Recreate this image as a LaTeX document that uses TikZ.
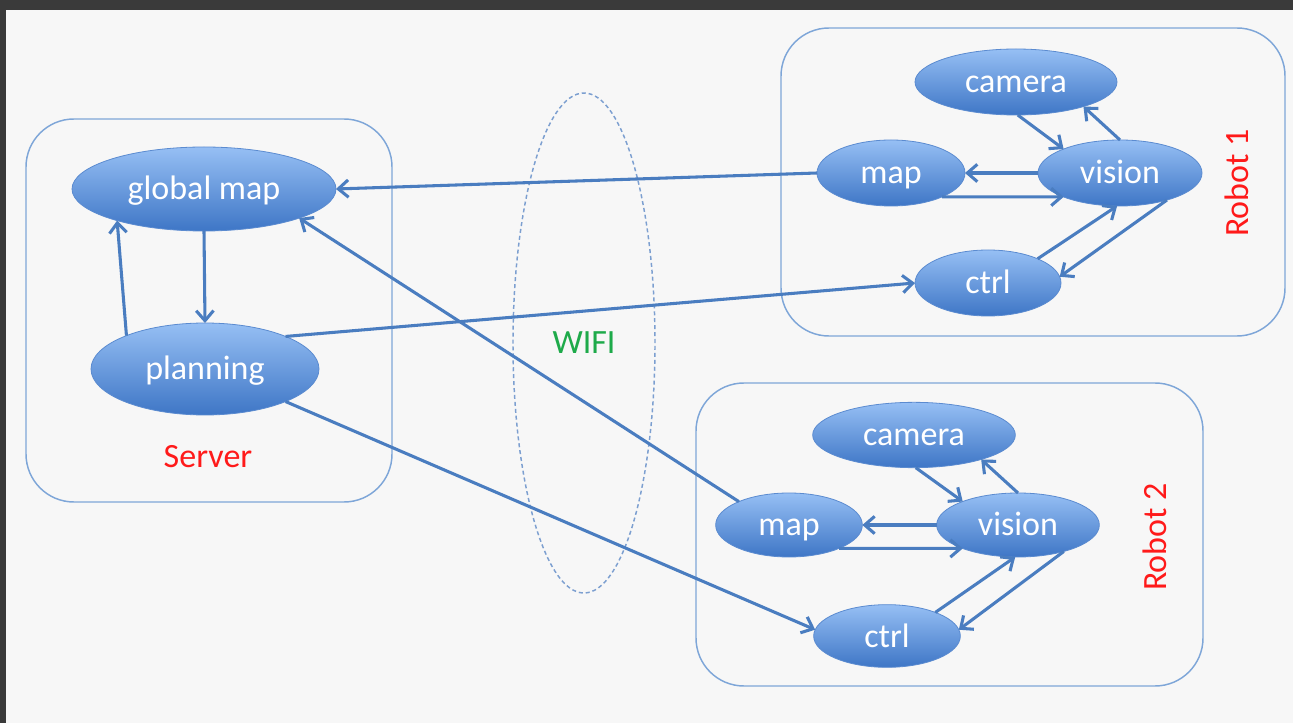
\documentclass[tikz,border=0pt]{standalone}
\usepackage{fontspec}
\setmainfont{Carlito}
\usetikzlibrary{arrows.meta,shapes.geometric}
\definecolor{bgc}{HTML}{F7F7F7}
\definecolor{framec}{HTML}{3A3A3A}
\definecolor{boxc}{HTML}{7EA6D8}
\definecolor{edgec}{HTML}{4A7DC0}
\definecolor{topc}{HTML}{96BFF4}
\definecolor{botc}{HTML}{3E76C6}
\definecolor{rimc}{HTML}{5B8BD0}
\definecolor{lblred}{HTML}{FF1A1A}
\definecolor{wifig}{HTML}{1EAA4A}
\definecolor{dashc}{HTML}{7C9FD0}
\begin{document}
\begin{tikzpicture}[x=0.75pt,y=-0.75pt,
  blob/.style={ellipse, draw=rimc, line width=0.6pt, top color=topc, bottom color=botc, text=white, font=\fontsize{25.5}{30}\selectfont, inner sep=0pt, outer sep=0pt, text height=21pt, text depth=4.5pt},
  grp/.style={draw=boxc, line width=1.1pt, rounded corners=36pt},
  lnk/.style={draw=edgec, line width=2.3pt, -{Straight Barb[length=7.5pt,width=13pt]}},
  lbl/.style={text=lblred, font=\fontsize{25.5}{30}\selectfont}]
\fill[framec] (0,0) rectangle (1293,723);
\fill[bgc] (6,10) rectangle (1293,723);
\useasboundingbox (0,0) rectangle (1293,723);
% groups
\draw[grp] (26,119) rectangle (392,502);
\draw[grp] (781,28) rectangle (1285,336);
\draw[grp] (696,383) rectangle (1203,686);
% wifi
\node[ellipse, draw=dashc, line width=1.1pt, dash pattern=on 3pt off 2.2pt, minimum width=106.5pt, minimum height=375pt, inner sep=0pt, text=wifig, font=\fontsize{25.5}{30}\selectfont] (wifi) at (584,343) {WIFI};
% server
\node[blob, minimum width=198pt, minimum height=63pt] (gm) at (204,189) {global map};
\node[blob, minimum width=171pt, minimum height=69pt] (pl) at (205,369) {planning};
\node[lbl] (srv) at (208,457) {Server};
% robot 1
\node[blob, minimum width=151.5pt, minimum height=49.5pt] (cam1) at (1016,82) {camera};
\node[blob, minimum width=111pt, minimum height=49.5pt] (m1) at (891,173) {map};
\node[blob, minimum width=123pt, minimum height=49.5pt] (v1) at (1120,173) {vision};
\node[blob, minimum width=109.5pt, minimum height=49.5pt] (ctl1) at (988,283) {ctrl};
\node[lbl, rotate=90] (r1) at (1237,183) {Robot 1};
% robot 2
\node[blob, minimum width=152pt, minimum height=49pt] (cam2) at (914,435) {camera};
\node[blob, minimum width=110pt, minimum height=48pt] (m2) at (789,525) {map};
\node[blob, minimum width=122pt, minimum height=48pt] (v2) at (1018,525) {vision};
\node[blob, minimum width=110pt, minimum height=47pt] (ctl2) at (887,636) {ctrl};
\node[lbl, rotate=90] (r2) at (1155,537) {Robot 2};
% server links
\draw[lnk] (gm.south) -- (pl.north);
\draw[lnk] (pl.157) -- (gm.-160);
\draw[lnk] (m1.west) -- (gm.east);
\draw[lnk] (m2.155) -- (gm.-17.6);
\draw[lnk] (pl.22) -- (ctl1.west);
\draw[lnk] (pl.-22) -- (ctl2.175);
% robot 1 links
\draw[lnk] (cam1.-87) -- (v1.157);
\draw[lnk] (v1.north) -- (cam1.-20);
\draw[lnk] (v1.west) -- (m1.east);
\draw[lnk] (m1.-25) -- (v1.-157);
\draw[lnk] (ctl1.26) -- (v1.265);
\draw[lnk] (v1.-30) -- (ctl1.5);
% robot 2 links
\draw[lnk] (cam2.-87) -- (v2.157);
\draw[lnk] (v2.north) -- (cam2.-20);
\draw[lnk] (v2.west) -- (m2.east);
\draw[lnk] (m2.-25) -- (v2.-157);
\draw[lnk] (ctl2.26) -- (v2.265);
\draw[lnk] (v2.-30) -- (ctl2.5);
\end{tikzpicture}
\end{document}
